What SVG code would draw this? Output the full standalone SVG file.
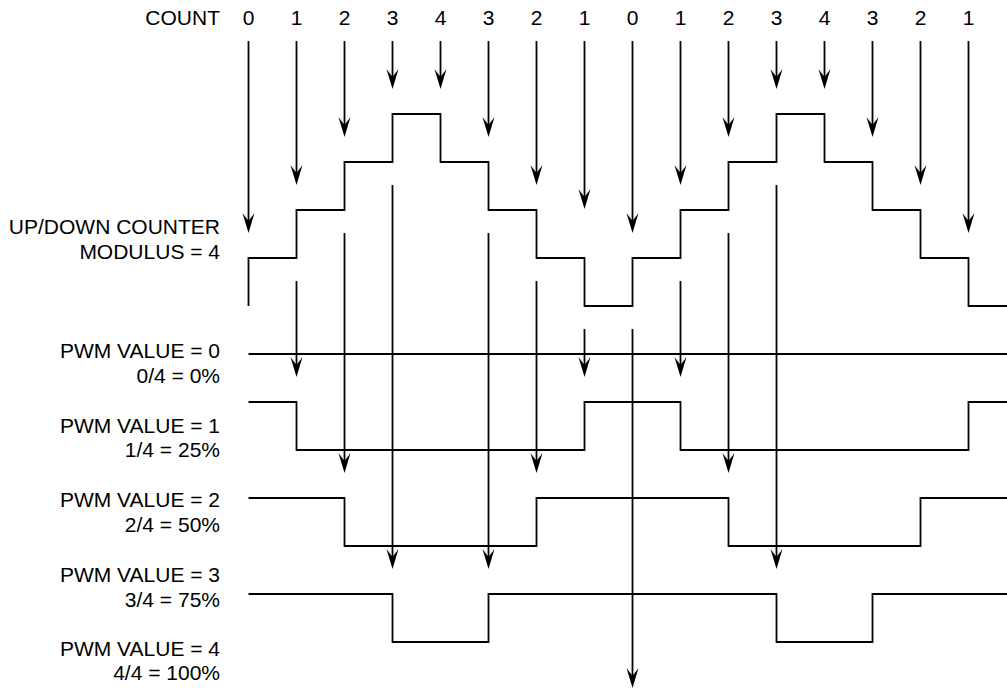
<svg xmlns="http://www.w3.org/2000/svg" width="1007" height="689" viewBox="0 0 1007 689">
<style>
  .t { font-family: "Liberation Sans", Arial, sans-serif; font-size: 21px; fill: #000; }
  .r { text-anchor: end; }
  .c { text-anchor: middle; }
  .w { fill: none; stroke: #000; stroke-width: 1.8; stroke-linejoin: miter; }
  .a { fill: none; stroke: #000; stroke-width: 1.8; marker-end: url(#ah); }
</style>
<defs>
  <marker id="ah" markerUnits="userSpaceOnUse" viewBox="-11 -7 22 14" markerWidth="22" markerHeight="14" refX="0" refY="0" orient="auto">
    <path d="M10,0 L-10,-6 L-2,0 L-10,6 Z" fill="#000"/>
  </marker>
</defs>
<rect width="1007" height="689" fill="#fff"/>

<g id="count-labels" class="t">
  <text class="r" x="220" y="25">COUNT</text>
  <g class="c">
    <text x="248.5" y="25">0</text>
    <text x="296.5" y="25">1</text>
    <text x="344.5" y="25">2</text>
    <text x="392.5" y="25">3</text>
    <text x="440.5" y="25">4</text>
    <text x="488.5" y="25">3</text>
    <text x="536.5" y="25">2</text>
    <text x="584.5" y="25">1</text>
    <text x="632.5" y="25">0</text>
    <text x="680.5" y="25">1</text>
    <text x="728.5" y="25">2</text>
    <text x="776.5" y="25">3</text>
    <text x="824.5" y="25">4</text>
    <text x="872.5" y="25">3</text>
    <text x="920.5" y="25">2</text>
    <text x="968.5" y="25">1</text>
  </g>
</g>

<g id="counter">
  <text class="t r" x="220" y="234">UP/DOWN COUNTER</text>
  <text class="t r" x="220" y="259">MODULUS = 4</text>
  <path class="w" d="M248.5,306 V258 H296.5 V210 H344.5 V162 H392.5 V114 H440.5 V162 H488.5 V210 H536.5 V258 H584.5 V306 H632.5 V258 H680.5 V210 H728.5 V162 H776.5 V114 H824.5 V162 H872.5 V210 H920.5 V258 H968.5 V306 H1007"/>
</g>

<g id="pwm0">
  <text class="t r" x="220" y="358">PWM VALUE = 0</text>
  <text class="t r" x="220" y="383">0/4 = 0%</text>
  <path class="w" d="M248.5,354 H1007"/>
</g>

<g id="pwm1">
  <text class="t r" x="220" y="433">PWM VALUE = 1</text>
  <text class="t r" x="220" y="457">1/4 = 25%</text>
  <path class="w" d="M248.5,402 H296.5 V450 H584.5 V402 H680.5 V450 H968.5 V402 H1007"/>
</g>

<g id="pwm2">
  <text class="t r" x="220" y="507">PWM VALUE = 2</text>
  <text class="t r" x="220" y="532">2/4 = 50%</text>
  <path class="w" d="M248.5,498 H344.5 V546 H536.5 V498 H728.5 V546 H920.5 V498 H1007"/>
</g>

<g id="pwm3">
  <text class="t r" x="220" y="582">PWM VALUE = 3</text>
  <text class="t r" x="220" y="607">3/4 = 75%</text>
  <path class="w" d="M248.5,594 H392.5 V642 H488.5 V594 H776.5 V642 H872.5 V594 H1007"/>
</g>

<g id="pwm4">
  <text class="t r" x="220" y="656">PWM VALUE = 4</text>
  <text class="t r" x="220" y="680">4/4 = 100%</text>
</g>

<g id="connectors">
  <path class="a" d="M248.5,41 V223"/>
  <path class="a" d="M296.5,41 V175"/>
  <path class="a" d="M344.5,41 V127"/>
  <path class="a" d="M392.5,41 V79"/>
  <path class="a" d="M440.5,41 V79"/>
  <path class="a" d="M488.5,41 V127"/>
  <path class="a" d="M536.5,41 V175"/>
  <path class="a" d="M584.5,41 V199"/>
  <path class="a" d="M632.5,41 V223"/>
  <path class="a" d="M680.5,41 V175"/>
  <path class="a" d="M728.5,41 V127"/>
  <path class="a" d="M776.5,41 V79"/>
  <path class="a" d="M824.5,41 V79"/>
  <path class="a" d="M872.5,41 V127"/>
  <path class="a" d="M920.5,41 V175"/>
  <path class="a" d="M968.5,41 V223"/>

  <path class="a" d="M296.5,281 V367"/>
  <path class="a" d="M344.5,233 V463"/>
  <path class="a" d="M392.5,185 V559"/>
  <path class="a" d="M488.5,233 V559"/>
  <path class="a" d="M536.5,281 V463"/>
  <path class="a" d="M584.5,329 V367"/>
  <path class="a" d="M632.5,329 V678"/>
  <path class="a" d="M680.5,281 V367"/>
  <path class="a" d="M728.5,233 V463"/>
  <path class="a" d="M776.5,185 V559"/>
</g>
</svg>
